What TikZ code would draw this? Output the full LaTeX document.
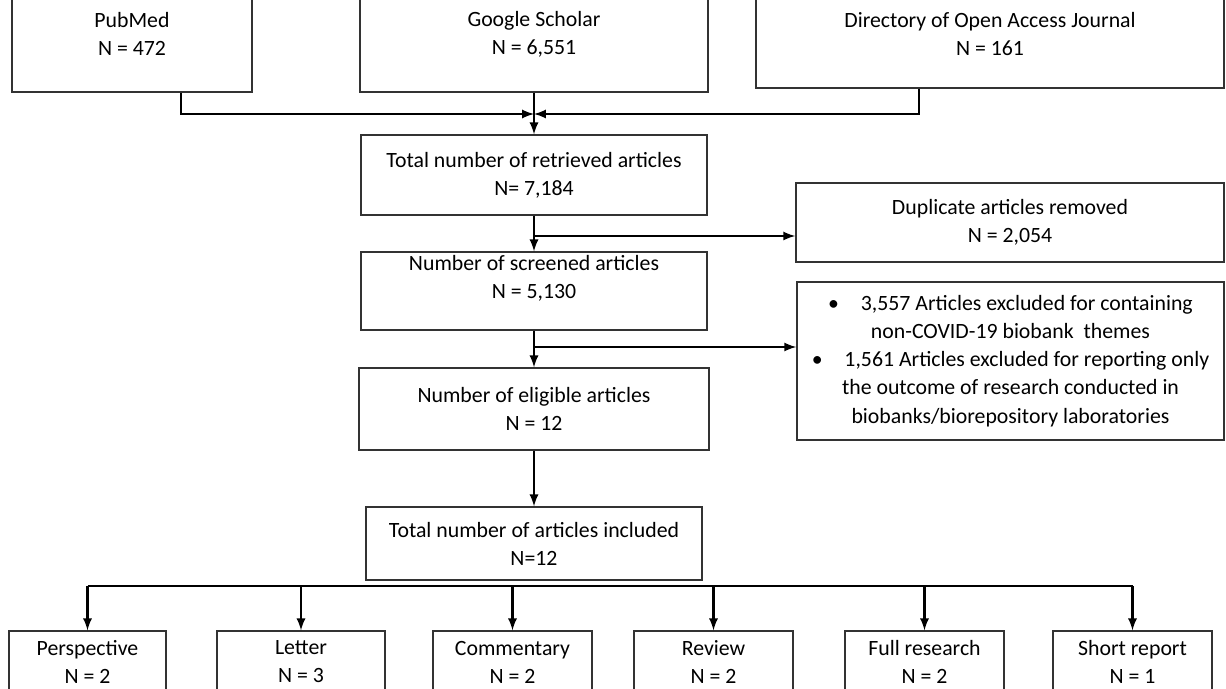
\documentclass[tikz,border=0pt]{standalone}
\usepackage{fontspec}
\setmainfont{Carlito}
\usetikzlibrary{positioning,arrows}
\tikzset{every picture/.style={>=latex,thick}}
\tikzset{box/.style={draw=black!80,line width=1pt,align=center,inner sep=0pt,font=\fontsize{15.5}{20}\selectfont}}
\tikzset{flow/.style={->,line width=1.9pt}}
\tikzset{kind/.style={box,minimum width=3.975cm,minimum height=1.55cm}}

\begin{document}
\begin{tikzpicture}[x=0.025cm,y=-0.025cm]
      \useasboundingbox (0,0) rectangle (1226,689);
      \clip (0,0) rectangle (1226,689);
      % sources
      \node[box,minimum width=6cm,minimum height=2.9cm] (pub) at (132,34) {PubMed\\N = 472};
      \node[box,minimum width=8.7cm,minimum height=2.9cm] (gs) at (534,34) {Google Scholar\\N = 6,551};
      \node[box,minimum width=11.7cm,minimum height=2.7cm] (doaj) at (990,34) {Directory of Open Access Journal\\N = 161};
      % main flow
      \node[box,minimum width=8.65cm,minimum height=2cm] (total) at (534,175) {Total number of retrieved articles\\N= 7,184};
      \node[box,minimum width=10.7cm,minimum height=1.975cm] (dup) at (1010,222.5) {Duplicate articles removed\\N = 2,054};
      \node[box,minimum width=8.65cm,minimum height=1.95cm] (screen) at (534,291) {Number of screened articles\\N = 5,130\\~};
      \node[box,minimum width=10.675cm,minimum height=3.95cm] (excl) at (1010.5,361) {\textbullet\quad 3,557 Articles excluded for containing\\
        non-COVID-19 biobank\ \ themes\\
        \textbullet\quad 1,561 Articles excluded for reporting only\\
        the outcome of research conducted in\\
        biobanks/biorepository laboratories};
      \node[box,minimum width=8.75cm,minimum height=2.05cm] (elig) at (534,409) {Number of eligible articles\\N = 12};
      \node[box,minimum width=8.4cm,minimum height=1.825cm] (incl) at (534,543.5) {Total number of articles included\\N=12};
      % article types
      \node[kind,minimum width=3.925cm] (persp) at (87.5,662) {Perspective\\N = 2};
      \node[kind,minimum width=4.2cm] (letter) at (301,662) {Letter\\N = 3};
      \node[kind] (comm) at (512.5,662) {Commentary\\N = 2};
      \node[kind] (review) at (713.5,662) {Review\\N = 2};
      \node[kind] (full) at (924.5,662) {Full research\\N = 2};
      \node[kind] (short) at (1132.5,662) {Short report\\N = 1};

      \coordinate (merge) at (534,114);
      \draw[flow] (pub.south) ++(49,0) |- (merge);
      \draw[flow] (doaj.south) ++(-71,0) |- (merge);
      \draw[flow] (gs.south) -- (total.north);
      \draw[flow] (total.south) -- (screen.north);
      \coordinate (b1) at (534,236);
      \draw[flow] (b1) -- (b1 -| dup.west);
      \draw[flow] (screen.south) -- (elig.north);
      \coordinate (b2) at (534,347);
      \draw[flow] (b2) -- (b2 -| excl.west);
      \draw[flow] (elig.south) -- (incl.north);

      \coordinate (split) at (0,586);
      \draw[line width=1.9pt] (persp.north |- split) -- (short.north |- split);
      \foreach \n in {persp,letter,comm,review,full,short}
        \draw[flow] (\n.north |- split) -- (\n.north);
\end{tikzpicture}
\end{document}
